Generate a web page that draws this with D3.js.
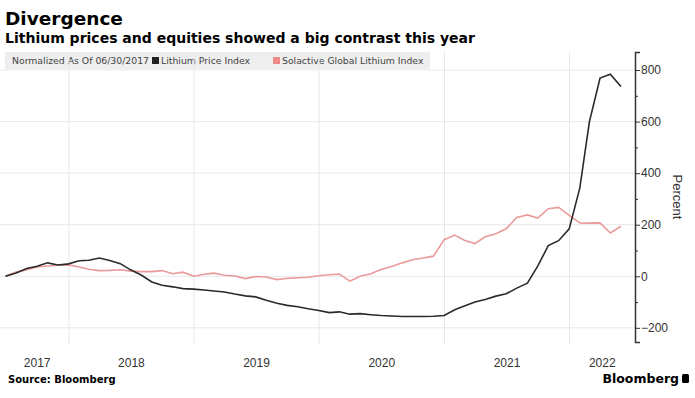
<!DOCTYPE html>
<html>
<head>
<meta charset="utf-8">
<script src="https://cdn.jsdelivr.net/npm/d3@7"></script>
<style>
  body { margin: 0; background: #fff; }
  svg { display: block; }
</style>
</head>
<body>
<svg id="area" width="695" height="398"></svg>
<script>
// month-end dates, starting at the normalisation date
const dates = d3.range(60).map(k => d3.timeDay.offset(d3.timeMonth.offset(new Date(2017, 6, 1), k), -1));
const lithiumPrice = [0, 13, 30, 39, 52, 44, 48, 60, 62, 71, 61, 49,
  25, 5, -22, -35, -41, -48, -50, -53, -57, -61, -69, -76,
  -80, -93, -105, -113, -118, -126, -133, -141, -138, -147, -145, -149,
  -152, -154, -156, -156, -156, -155, -152, -130, -115, -100, -90, -77,
  -68, -46, -27, 39, 119, 138, 184, 343, 600, 769, 784, 736];
const solactive = [0, 16, 25, 36, 40, 43, 44, 36, 27, 22, 23, 25,
  20, 18, 18, 22, 10, 16, 0, 8, 12, 4, 1, -9,
  -1, -3, -13, -8, -6, -4, 2, 6, 9, -19, 0, 10,
  26, 38, 52, 64, 71, 78, 142, 160, 140, 127, 153, 165,
  184, 228, 238, 226, 262, 267, 236, 207, 206, 207, 168, 194];
const yTicks = [-200, 0, 200, 400, 600, 800];
const yMinor = [-100, 100, 300, 500, 700];
const years = [2017, 2018, 2019, 2020, 2021, 2022];

const svg = d3.select("#area");
const x = d3.scaleTime()
  .domain([new Date(2017, 5, 30), new Date(2022, 6, 11)])
  .range([5.5, 635]);
const y = d3.scaleLinear().domain([-255, 870]).range([342, 52]);

// titles
svg.append("text").attr("x", 5).attr("y", 25)
  .style("font", "bold 18.5px 'DejaVu Sans'").attr("fill", "#000").text("Divergence");
svg.append("text").attr("x", 5).attr("y", 43)
  .style("font", "bold 14px 'DejaVu Sans'").attr("fill", "#000")
  .text("Lithium prices and equities showed a big contrast this year");

// legend
const legend = svg.append("g");
const legFont = "9.3px 'DejaVu Sans'";
legend.append("rect").attr("x", 5).attr("y", 52).attr("width", 425).attr("height", 17).attr("fill", "#eeeeee");
legend.append("text").attr("x", 12).attr("y", 64)
  .style("font", legFont).attr("fill", "#444").text("Normalized As Of 06/30/2017");
legend.append("rect").attr("x", 152).attr("y", 57).attr("width", 7).attr("height", 7).attr("fill", "#222");
legend.append("text").attr("x", 161).attr("y", 64)
  .style("font", legFont).attr("fill", "#444").text("Lithium Price Index");
legend.append("rect").attr("x", 273).attr("y", 57).attr("width", 7).attr("height", 7).attr("fill", "#ec8a8a");
legend.append("text").attr("x", 282).attr("y", 64)
  .style("font", legFont).attr("fill", "#444").text("Solactive Global Lithium Index");

// grid
const grid = svg.append("g");
grid.selectAll(".hg").data(yTicks).join("line")
  .attr("x1", 0).attr("x2", 635)
  .attr("y1", d => y(d)).attr("y2", d => y(d))
  .attr("stroke", "#e8e8e8").attr("stroke-width", 1);
grid.selectAll(".vg").data(years.slice(1)).join("line")
  .attr("x1", d => x(new Date(d, 0, 1))).attr("x2", d => x(new Date(d, 0, 1)))
  .attr("y1", 52).attr("y2", 345)
  .attr("stroke", "#e8e8e8").attr("stroke-width", 1);

// lines
const line = d3.line().x((d, i) => x(dates[i])).y(d => y(d));
svg.append("path").datum(solactive).attr("d", line)
  .attr("fill", "none").attr("stroke", "#eb9a9a").attr("stroke-width", 1.6);
svg.append("path").datum(lithiumPrice).attr("d", line)
  .attr("fill", "none").attr("stroke", "#2a2a2a").attr("stroke-width", 1.6);

// y axis on the right
const yAxis = svg.append("g").attr("transform", "translate(635,0)")
  .call(d3.axisRight(y).tickValues(yTicks).tickSize(5).tickPadding(1));
yAxis.select(".domain").attr("stroke", "#333").attr("stroke-width", 1.5);
yAxis.selectAll(".tick line").attr("stroke", "#333");
yAxis.selectAll(".tick text").style("font", "12px 'Liberation Sans'").attr("fill", "#333");
svg.append("g").attr("transform", "translate(635,0)")
  .call(d3.axisRight(y).tickValues(yMinor).tickSize(3).tickFormat(""))
  .call(g => g.select(".domain").remove())
  .selectAll(".tick line").attr("stroke", "#333");
svg.append("text").attr("transform", "translate(673,197) rotate(90)")
  .attr("text-anchor", "middle")
  .style("font", "13px 'Liberation Sans'").attr("fill", "#333").text("Percent");

// year labels centred in the visible part of each year
const [d0, d1] = x.domain();
svg.append("g").selectAll("text").data(years).join("text")
  .attr("x", yr => {
    const a = d3.max([d0, new Date(yr, 0, 1)]);
    const b = d3.min([d1, new Date(yr + 1, 0, 1)]);
    return (x(a) + x(b)) / 2;
  })
  .attr("y", 367).attr("text-anchor", "middle")
  .style("font", "12px 'Liberation Sans'").attr("fill", "#333")
  .text(yr => yr);

// footer
svg.append("text").attr("x", 8).attr("y", 383)
  .style("font", "bold 10px 'DejaVu Sans'").attr("fill", "#000").text("Source: Bloomberg");
svg.append("text").attr("x", 679).attr("y", 383).attr("text-anchor", "end")
  .style("font", "bold 12.5px 'DejaVu Sans'").attr("fill", "#000").text("Bloomberg");
svg.append("rect").attr("x", 682).attr("y", 374).attr("width", 7).attr("height", 9).attr("rx", 1.5).attr("fill", "#000");
</script>
</body>
</html>
